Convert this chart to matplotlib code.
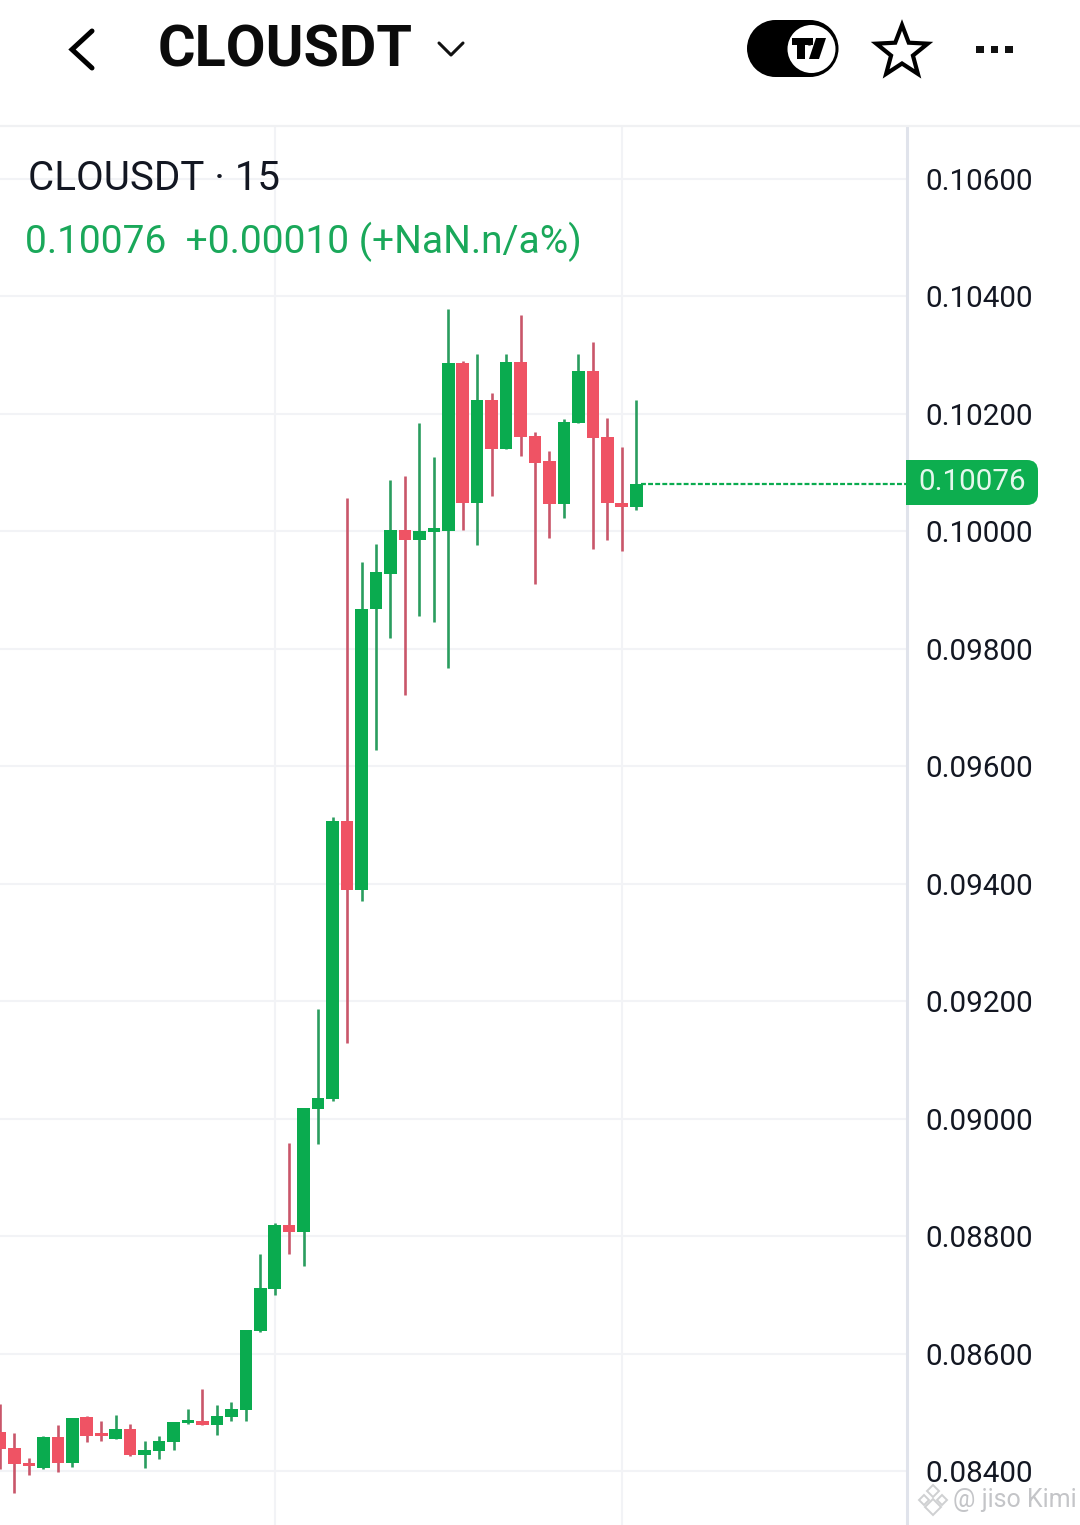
import matplotlib
matplotlib.use("Agg")
import matplotlib.pyplot as plt
from matplotlib.patches import Polygon, Rectangle, Circle, FancyBboxPatch
import numpy as np

plt.rcParams['font.family'] = ['Roboto', 'DejaVu Sans']

# Candle values, in units of 0.00001
opens = [8466,8439,8414,8405,8458,8414,8492,8465,8454,8471,8427,8434,8449,8482,8485,8478,8492,8504,8638,8710,
         8819,8807,9016,9033,9506,9389,9867,9928,10003,9986,9999,10001,10287,10049,10224,10141,10289,10163,10119,10047,
         10185,10273,10161,10049,10042]
highs = [8514,8465,8422,8460,8478,8490,8493,8485,8495,8480,8451,8460,8484,8505,8540,8512,8517,8640,8769,8822,
         8958,9018,9186,9513,10056,9948,9979,10088,10095,10185,10127,10379,10290,10302,10236,10302,10369,10170,10136,10192,
         10302,10323,10193,10144,10223]
lows = [8403,8363,8393,8403,8398,8407,8449,8451,8454,8426,8405,8420,8436,8480,8478,8461,8485,8485,8637,8699,
        8769,8749,8956,9030,9128,9370,9628,9819,9722,9856,9846,9768,10003,9976,10061,10141,10129,9911,9989,10022,
        10185,9970,9986,9967,10037]
closes = [8437,8412,8409,8458,8414,8490,8460,8460,8471,8427,8436,8451,8483,8487,8478,8494,8505,8640,8711,8819,
          8807,9018,9035,9506,9389,9868,9930,10003,9986,10001,10005,10287,10049,10224,10141,10289,10161,10117,10047,10187,
          10273,10159,10049,10042,10081]
price_ticks = [0.084,0.086,0.088,0.090,0.092,0.094,0.096,0.098,0.100,0.102,0.104,0.106]
time_ticks = [19, 43]
symbol = "CLOUSDT"
legend_title = "CLOUSDT · 15"
legend_values = "0.10076  +0.00010 (+NaN.n/a%)"
last_label = "0.10076"
watermark = "@ jiso Kimi"

UP, DOWN = '#0aab4f', '#ef5364'
UPW, DOWNW = '#2a9d5f', '#c9566a'
GRID = '#f2f3f6'

W, H = 1080, 1525
fig = plt.figure(figsize=(W/100, H/100), dpi=100, facecolor='white')
L, R, T, B = 0, 907, 127, 1525
ax = fig.add_axes([L/W, 1-B/H, (R-L)/W, (B-T)/H])

o = np.array(opens)/1e5; h = np.array(highs)/1e5; l = np.array(lows)/1e5; c = np.array(closes)/1e5
idx = np.arange(len(o))
up = c >= o
ax.vlines(idx[up], l[up], h[up], color=UPW, lw=1.9, zorder=3)
ax.vlines(idx[~up], l[~up], h[~up], color=DOWNW, lw=1.9, zorder=3)
ax.bar(idx[up], (c-o)[up], bottom=o[up], width=0.87, color=UP, lw=0, zorder=4)
ax.bar(idx[~up], (o-c)[~up], bottom=c[~up], width=0.87, color=DOWN, lw=0, zorder=4)
ax.hlines(c[-1], idx[-1]+0.3, 62.72, color=UP, lw=1.6, linestyles=(0, (2.2, 1.0)), zorder=3)

ax.set_xlim(0, R/14.46)
ppx = 1292/0.022
ax.set_ylim(0.084-(B-1471)/ppx, 0.106+(179-T)/ppx)
ax.set_yticks(price_ticks)
ax.set_yticklabels([f"{v:.5f}" for v in price_ticks])
ax.yaxis.tick_right()
ax.set_xticks(time_ticks)
ax.tick_params(axis='x', length=0, labelbottom=False)
ax.tick_params(axis='y', length=0, pad=13.5, labelsize=21.3, labelcolor='#131722')
ax.grid(True, color=GRID, lw=1.5, zorder=0)
ax.set_axisbelow(True)
for s in ['top', 'left', 'bottom']:
    ax.spines[s].set_visible(False)
ax.spines['right'].set_color('#e0e3eb')
ax.spines['right'].set_linewidth(2.2)

# Overlay in pixel coordinates for the app furniture
ov = fig.add_axes([0, 0, 1, 1], zorder=10)
ov.set_xlim(0, W); ov.set_ylim(H, 0); ov.axis('off'); ov.patch.set_alpha(0)

ov.plot([0, W], [126, 126], color='#f0f1f3', lw=1.6)
ov.plot([92, 72, 92], [31, 49.5, 68], color='black', lw=3.6, solid_joinstyle='miter', solid_capstyle='round')
ov.text(158, 51, symbol, fontsize=41.5, fontweight='bold', va='center', ha='left', color='#0b0b0b')
ov.plot([439, 451, 463], [43, 55, 43], color='#111111', lw=2.2, solid_capstyle='round')

# Toggle with logo
ov.add_patch(FancyBboxPatch((775, 20), 35, 57, boxstyle="round,pad=0,rounding_size=0", fc='black', ec='none'))
ov.add_patch(Circle((775.5, 48.5), 28.5, fc='black', ec='none'))
ov.add_patch(Circle((810, 48.5), 28.5, fc='black', ec='none'))
ov.add_patch(Circle((811.5, 49), 24, fc='white', ec='none'))
ov.add_patch(Polygon([(792, 38), (813, 38), (813, 45), (805, 45), (805, 59), (797, 59), (797, 45), (792, 45)], fc='black', ec='none'))
ov.add_patch(Circle((809.5, 42), 3.6, fc='black', ec='none'))
ov.add_patch(Polygon([(816, 38), (826, 38), (819, 59), (809, 59)], fc='black', ec='none'))

# Star
ang = np.deg2rad(-90 + 36*np.arange(10))
rad = np.where(np.arange(10) % 2 == 0, 27, 11.5)
ov.add_patch(Polygon(np.c_[902+rad*np.cos(ang), 52+rad*np.sin(ang)], closed=True, fc='white', ec='black', lw=3, joinstyle='miter'))
for x0 in [976, 990.5, 1005]:
    ov.add_patch(Rectangle((x0, 46), 7.5, 7, fc='#111111', ec='none'))

ov.text(28, 178, legend_title, fontsize=29, va='center', ha='left', color='#131722')
ov.text(25, 242, legend_values, fontsize=28, va='center', ha='left', color='#1aa85a')

# Last price tag
ov.add_patch(FancyBboxPatch((925, 460), 113, 45, boxstyle="round,pad=0,rounding_size=11", fc='#0dae4f', ec='none'))
ov.add_patch(Rectangle((906, 460), 30, 45, fc='#0dae4f', ec='none'))
ov.text(918, 482.5, last_label, fontsize=21.3, va='center', ha='left', color='#e4f7ec')

# Watermark
wm = '#cfd0d2'
for dx, dy, s in [(933, 1491, 6), (924, 1500, 5), (942, 1500, 5), (933, 1507, 8)]:
    ov.add_patch(Polygon([(dx, dy-s), (dx+s, dy), (dx, dy+s), (dx-s, dy)], fc='none', ec=wm, lw=1.4))
ov.text(953, 1500, watermark, fontsize=18, va='center', ha='left', color='#c4c5c8')

fig.savefig('out.png', dpi=100, facecolor='white')
